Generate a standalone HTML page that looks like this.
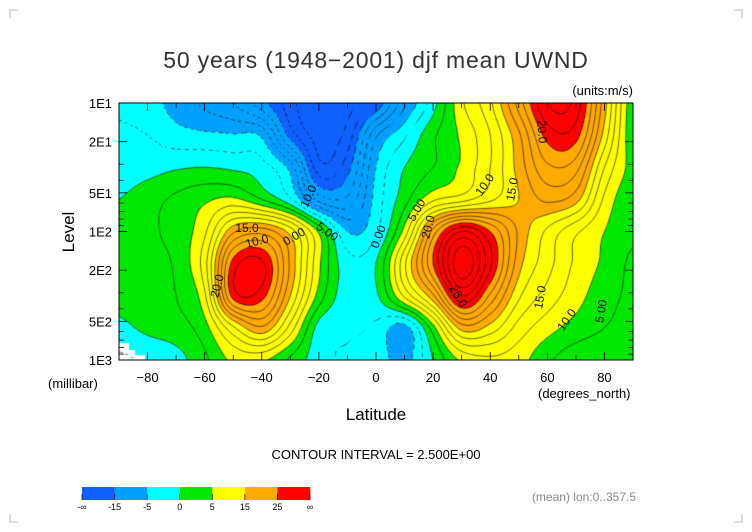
<!DOCTYPE html>
<html><head><meta charset="utf-8"><style>
body{margin:0;background:#fff;}
#wrap{position:relative;width:752px;height:532px;overflow:hidden;background:#fff;font-family:"Liberation Sans",sans-serif;}
#cv{position:absolute;left:119px;top:103px;}
svg{position:absolute;left:0;top:0;}
</style></head><body>
<div id="wrap">
<canvas id="cv" width="514" height="257"></canvas>
<svg id="sv" width="752" height="532"></svg>
</div>
<script>
const lats=[-90,-80,-70,-60,-50,-40,-30,-20,-10,0,10,20,30,40,50,60,70,80,90];
const pressures=[10,17.8,31.6,56.2,100,178,316,562,1000];
const u10=[-3,-4,-6,-8,-10,-14,-19,-23,-21,-17,-8,-1,7,12,21,30,29,16,3];
const u18=[-2,-2.5,-4,-4.5,-4.8,-5.5,-16,-21,-19,-8,-3,2,5.5,10,17,26,26,14,3];
const u32=[-1.5,-1,-0.3,0,-0.5,-1.5,-6,-19,-16,-5,0,2.5,5.5,10,16,22,21,10,4];
const u56=[0,1.5,3,4.5,5.5,2.5,-2,-11,-12,-4,1.5,7,9,12,15,18,16,7,3];
const u100=[1,2,3.5,7,17,19,14,4.5,-5,-3,6,21,30,25,17,12,8,5,3];
const u178=[0.5,1.5,3,9,26,28,17,5.5,-1.5,0,12,25,37,28,16,11,7,4.5,2];
const u316=[0.5,1,2.5,7,26,26,15,4,-1.5,-0.5,8,17,30,22,13,9,6,3.5,2];
const u562=[-0.5,0.5,1.5,4,12,17,9,-1,-2,-3,-6,4,16,14,9,6,4,2.5,1.5];
const u1000=[-3,-2,-1,2,5.5,5.5,2,-1.5,-3,-3.5,-6,0,5.5,7,6,3,1,0.5,0];
const windRows=[u10,u18,u32,u56,u100,u178,u316,u562,u1000];
const bandEdges=[-15,-5,0,5,15,25];
const bandColors=["#1060ff","#00a0ff","#00ffff","#00e800","#ffff00","#ffaa00","#ff0000"];
const xTicks=[-80,-60,-40,-20,0,20,40,60,80];
const yTickP=[10,20,50,100,200,500,1000];
const yTickLabels=["1E1","2E1","5E1","1E2","2E2","5E2","1E3"];
const cbLabels=["-\u221e","-15","-5","0","5","15","25","\u221e"];

const X0=119,X1=633,Y0=103,Y1=360;
function xOf(lat){return X0+(lat+90)/180*(X1-X0);}
function yOf(p){return Y0+(Math.log10(p)-1)/2*(Y1-Y0);}
function cr(p0,p1,p2,p3,t){return 0.5*((2*p1)+(-p0+p2)*t+(2*p0-5*p1+4*p2-p3)*t*t+(-p0+3*p1-3*p2+p3)*t*t*t);}
function g(r,c){r=Math.max(0,Math.min(windRows.length-1,r));c=Math.max(0,Math.min(lats.length-1,c));return windRows[r][c];}
const lp0=Math.log10(pressures[0]),lpN=Math.log10(pressures[pressures.length-1]);
function field(px,py){
  const lat=-90+(px-X0)/(X1-X0)*180;
  const lp=1+(py-Y0)/(Y1-Y0)*2;
  const fc=(lat-lats[0])/(lats[1]-lats[0]);
  const fr=(lp-lp0)/(lpN-lp0)*(pressures.length-1);
  const c=Math.floor(fc),r=Math.floor(fr),tc=fc-c,tr=fr-r;
  const rowv=[];
  for(let k=-1;k<=2;k++){rowv.push(cr(g(r+k,c-1),g(r+k,c),g(r+k,c+1),g(r+k,c+2),tc));}
  return cr(rowv[0],rowv[1],rowv[2],rowv[3],tr);
}
function band(v){let i=0;while(i<bandEdges.length&&v>=bandEdges[i])i++;return bandColors[i];}
function hex(h){return [parseInt(h.substr(1,2),16),parseInt(h.substr(3,2),16),parseInt(h.substr(5,2),16)];}
const cv=document.getElementById('cv'),ctx=cv.getContext('2d');
const W=514,H=257;
const img=ctx.createImageData(W,H);
for(let j=0;j<H;j++)for(let i=0;i<W;i++){
  const v=field(X0+i+0.5,Y0+j+0.5);const c=hex(band(v));const o=(j*W+i)*4;
  img.data[o]=c[0];img.data[o+1]=c[1];img.data[o+2]=c[2];img.data[o+3]=255;}
ctx.putImageData(img,0,0);
ctx.fillStyle="#fff";
ctx.fillRect(0,240,10,17);ctx.fillRect(10,247,6,10);ctx.fillRect(16,252,10,5);
const S=2,nx=Math.ceil(W/S)+1,ny=Math.ceil(H/S)+1;
const gv=[];
for(let j=0;j<ny;j++){gv.push([]);for(let i=0;i<nx;i++)gv[j].push(field(X0+i*S,Y0+j*S));}
ctx.strokeStyle="#000";ctx.lineWidth=0.6;
for(let L=-20;L<=40;L+=2.5){
  ctx.beginPath();
  for(let j=0;j<ny-1;j++)for(let i=0;i<nx-1;i++){
    const a=gv[j][i],b=gv[j][i+1],c=gv[j+1][i+1],d=gv[j+1][i];
    const pts=[];
    function e(v1,v2,x1,y1,x2,y2){if((v1<L)!==(v2<L)){const t=(L-v1)/(v2-v1);pts.push([x1+(x2-x1)*t,y1+(y2-y1)*t]);}}
    const x=i*S,y=j*S;
    e(a,b,x,y,x+S,y);e(b,c,x+S,y,x+S,y+S);e(c,d,x+S,y+S,x,y+S);e(d,a,x,y+S,x,y);
    if(L<0&&((i+j)>>1)%2)continue;
    for(let k=0;k+1<pts.length;k+=2){ctx.moveTo(pts[k][0],pts[k][1]);ctx.lineTo(pts[k+1][0],pts[k+1][1]);}
  }
  ctx.stroke();
}
const NS="http://www.w3.org/2000/svg",sv=document.getElementById('sv');
function mk(tag,attrs,txt){const el=document.createElementNS(NS,tag);for(const k in attrs)el.setAttribute(k,attrs[k]);if(txt!==undefined)el.textContent=txt;sv.appendChild(el);return el;}
let el;
el=mk('rect',{x:X0,y:Y0,width:X1-X0,height:Y1-Y0,fill:'none',stroke:'#000','stroke-width':1});


for(let dec=1;dec<=2;dec++)for(let m=1;m<10;m++){const p=m*Math.pow(10,dec);if(p>1000)continue;const y=yOf(p);
  el=mk('line',{x1:X0,x2:X0+(m==1||m==2||m==5?8:5),y1:y,y2:y,stroke:'#000','stroke-width':0.8});
  
  
  el=mk('line',{x1:X1,x2:X1-(m==1||m==2||m==5?8:5),y1:y,y2:y,stroke:'#000','stroke-width':0.8});
  
  }
for(let lat=-90;lat<=90;lat+=10){const x=xOf(lat);const major=lat%20==0;
  el=mk('line',{x1:x,x2:x,y1:Y1,y2:Y1-(major?8:5),stroke:'#000','stroke-width':0.8});
  
  
  el=mk('line',{x1:x,x2:x,y1:Y0,y2:Y0+(major?8:5),stroke:'#000','stroke-width':0.8});
  
  }
xTicks.forEach(v=>{el=mk('text',{x:xOf(v),y:382,'font-size':13,'text-anchor':'middle',fill:'#000'},v<0?'\u2212'+(-v):String(v));
  
  });
yTickP.forEach((p,i)=>{el=mk('text',{x:112,y:yOf(p)+5,'font-size':13,'text-anchor':'end',fill:'#000'},yTickLabels[i]);
  
  });
el=mk('text',{x:376,y:68,'font-size':23,'text-anchor':'middle',fill:'#333','letter-spacing':'0.8'},'50 years (1948\u22122001) djf mean UWND');


el=mk('text',{x:633,y:95,'font-size':13,'text-anchor':'end',fill:'#000'},'(units:m/s)');


el=mk('text',{x:74,y:232,'font-size':17,'text-anchor':'middle',fill:'#000',transform:'rotate(-90 74 232)'},'Level');


el=mk('text',{x:48,y:388,'font-size':13,fill:'#000'},'(millibar)');


el=mk('text',{x:376,y:420,'font-size':17,'text-anchor':'middle',fill:'#000'},'Latitude');


el=mk('text',{x:538,y:398,'font-size':13,fill:'#000'},'(degrees_north)');


el=mk('text',{x:376,y:459,'font-size':13,'text-anchor':'middle',fill:'#000'},'CONTOUR INTERVAL = 2.500E+00');


el=mk('text',{x:636,y:501,'font-size':12,'text-anchor':'end',fill:'#888'},'(mean) lon:0..357.5');


const lbls=[[312,198,'10.0',-65],[247,232,'15.0',0],[258,245,'10.0',-15],[221,287,'20.0',-75],[382,238,'0.00',-70],[432,228,'20.0',-75],[455,298,'25.0',60],[420,212,'5.00',-60],[488,187,'10.0',-55],[516,190,'15.0',-80],[544,298,'15.0',-80],[570,322,'10.0',-55],[605,312,'5.00',-80],[538,132,'20.0',85],[325,235,'5.00',35],[296,240,'0.00',-30]];
lbls.forEach(l=>{el=mk('text',{x:l[0],y:l[1],'font-size':12,'text-anchor':'middle',fill:'#111',transform:'rotate('+l[3]+' '+l[0]+' '+l[1]+')'},l[2]);
  
  });
const cbX=82,cbW=228,cbY=487,cbH=13,seg=cbW/bandColors.length;
bandColors.forEach((c,i)=>{el=mk('rect',{x:cbX+i*seg,y:cbY,width:seg+0.3,height:cbH,fill:c});
  
  });
cbLabels.forEach((t,i)=>{const x=cbX+i*seg;
  el=mk('line',{x1:x,x2:x,y1:cbY+cbH-6,y2:cbY+cbH,stroke:'#000','stroke-width':0.7});
  
  
  el=mk('text',{x:x,y:510,'font-size':9,'text-anchor':'middle',fill:'#000'},t);
  
  });
[[10,10,1,1],[742,10,-1,1],[10,522,1,-1],[742,522,-1,-1]].forEach(c=>{
  el=mk('path',{d:'M'+(c[0])+' '+(c[1]+8*c[3])+' L'+c[0]+' '+c[1]+' L'+(c[0]+8*c[2])+' '+c[1],fill:'none',stroke:'#aaa','stroke-width':0.8});
  
  });
</script>
</body></html>
